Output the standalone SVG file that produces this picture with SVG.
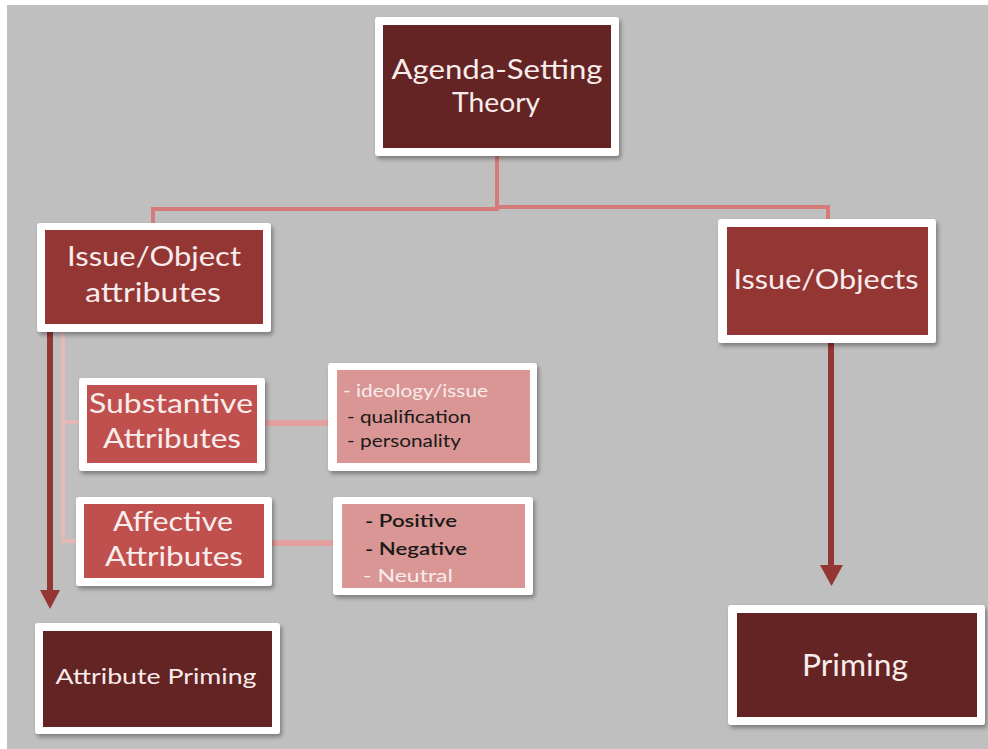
<svg xmlns="http://www.w3.org/2000/svg" width="988" height="749" viewBox="0 0 988 749">
  <defs>
    <filter id="shadow" x="-10%" y="-10%" width="125%" height="130%">
      <feDropShadow dx="2" dy="3" stdDeviation="2" flood-color="#000" flood-opacity="0.35"/>
    </filter>
    <style>
      .frame { fill: #ffffff; filter: url(#shadow); }
      .dark { fill: #632423; }
      .mid { fill: #943634; }
      .red { fill: #c0504d; }
      .pink { fill: #d99694; }
      .label { font-family: Lato, "Open Sans", "DejaVu Sans", sans-serif; fill: #f8ecec; text-anchor: middle; }
      .item { font-family: Lato, "Open Sans", "DejaVu Sans", sans-serif; font-size: 18px; fill: #1a1a1a; }
      .item-light { fill: #f8ecec; }
      .tree { fill: none; stroke: #d77a7a; stroke-width: 4; }
      .bracket { fill: none; stroke: #e6b9b8; stroke-width: 4; }
      .link { fill: none; stroke: #e3a09f; stroke-width: 6; }
      .flow { fill: none; stroke: #943634; stroke-width: 6; }
      .head { fill: #943634; }
    </style>
  </defs>

  <!-- canvas -->
  <rect x="0" y="0" width="988" height="749" fill="#ffffff"/>
  <rect x="7" y="5" width="981" height="744" fill="#bfbfbf"/>

  <!-- connectors -->
  <g id="connectors">
    <path class="tree" d="M497,156 V209 H153 V223"/>
    <path class="tree" d="M497,207 H828 V219"/>
    <path class="bracket" d="M63,332 V541 M61,422 H80 M61,541 H77"/>
    <path class="link" d="M265,423 H329"/>
    <path class="link" d="M272,543 H334"/>
    <path class="flow" d="M50,332 V592"/>
    <polygon class="head" points="40,590 60,590 50,609"/>
    <path class="flow" d="M831,343 V567"/>
    <polygon class="head" points="820,565 843,565 831.5,586"/>
  </g>

  <!-- nodes -->
  <g id="agenda-setting-theory">
    <rect class="frame" x="375" y="17" width="244" height="139" rx="3"/>
    <rect class="dark" x="383" y="25" width="228" height="123"/>
    <text class="label" font-size="27" x="497" y="79" textLength="211" lengthAdjust="spacingAndGlyphs">Agenda-Setting</text>
    <text class="label" font-size="27" x="496" y="112" textLength="88" lengthAdjust="spacingAndGlyphs">Theory</text>
  </g>

  <g id="issue-object-attributes">
    <rect class="frame" x="37" y="223" width="234" height="109" rx="3"/>
    <rect class="mid" x="45" y="230" width="218" height="94"/>
    <text class="label" font-size="27" x="154" y="266" textLength="174" lengthAdjust="spacingAndGlyphs">Issue/Object</text>
    <text class="label" font-size="27" x="153" y="302" textLength="136" lengthAdjust="spacingAndGlyphs">attributes</text>
  </g>

  <g id="issue-objects">
    <rect class="frame" x="718" y="219" width="218" height="124" rx="3"/>
    <rect class="mid" x="727" y="227" width="201" height="108"/>
    <text class="label" font-size="27" x="826" y="289" textLength="185" lengthAdjust="spacingAndGlyphs">Issue/Objects</text>
  </g>

  <g id="substantive-attributes">
    <rect class="frame" x="79" y="378" width="186" height="93" rx="3"/>
    <rect class="red" x="87" y="385" width="170" height="78"/>
    <text class="label" font-size="26" x="171" y="413" textLength="164" lengthAdjust="spacingAndGlyphs">Substantive</text>
    <text class="label" font-size="26" x="172" y="448" textLength="138" lengthAdjust="spacingAndGlyphs">Attributes</text>
  </g>

  <g id="substantive-list">
    <rect class="frame" x="328" y="363" width="209" height="108" rx="3"/>
    <rect class="pink" x="337" y="370" width="193" height="93"/>
    <text class="item item-light" x="343" y="397" textLength="145" lengthAdjust="spacingAndGlyphs">- ideology/issue</text>
    <text class="item" x="347" y="423" textLength="124" lengthAdjust="spacingAndGlyphs">- qualification</text>
    <text class="item" x="347" y="447" textLength="114" lengthAdjust="spacingAndGlyphs">- personality</text>
  </g>

  <g id="affective-attributes">
    <rect class="frame" x="76" y="497" width="196" height="89" rx="3"/>
    <rect class="red" x="84" y="504" width="180" height="74"/>
    <text class="label" font-size="26" x="173" y="531" textLength="120" lengthAdjust="spacingAndGlyphs">Affective</text>
    <text class="label" font-size="26" x="174" y="566" textLength="138" lengthAdjust="spacingAndGlyphs">Attributes</text>
  </g>

  <g id="affective-list">
    <rect class="frame" x="333" y="497" width="200" height="98" rx="3"/>
    <rect class="pink" x="342" y="504" width="183" height="84"/>
    <text class="item" font-weight="600" x="365" y="527" textLength="92" lengthAdjust="spacingAndGlyphs">- Positive</text>
    <text class="item" font-weight="600" x="365" y="555" textLength="102" lengthAdjust="spacingAndGlyphs">- Negative</text>
    <text class="item item-light" x="363" y="582" textLength="90" lengthAdjust="spacingAndGlyphs">- Neutral</text>
  </g>

  <g id="attribute-priming">
    <rect class="frame" x="35" y="623" width="245" height="111" rx="3"/>
    <rect class="dark" x="43" y="631" width="229" height="96"/>
    <text class="label" font-size="21" x="156" y="684" textLength="201" lengthAdjust="spacingAndGlyphs">Attribute Priming</text>
  </g>

  <g id="priming">
    <rect class="frame" x="728" y="605" width="257" height="120" rx="3"/>
    <rect class="dark" x="737" y="613" width="240" height="104"/>
    <text class="label" font-size="30" x="855" y="676" textLength="106" lengthAdjust="spacingAndGlyphs">Priming</text>
  </g>
</svg>
